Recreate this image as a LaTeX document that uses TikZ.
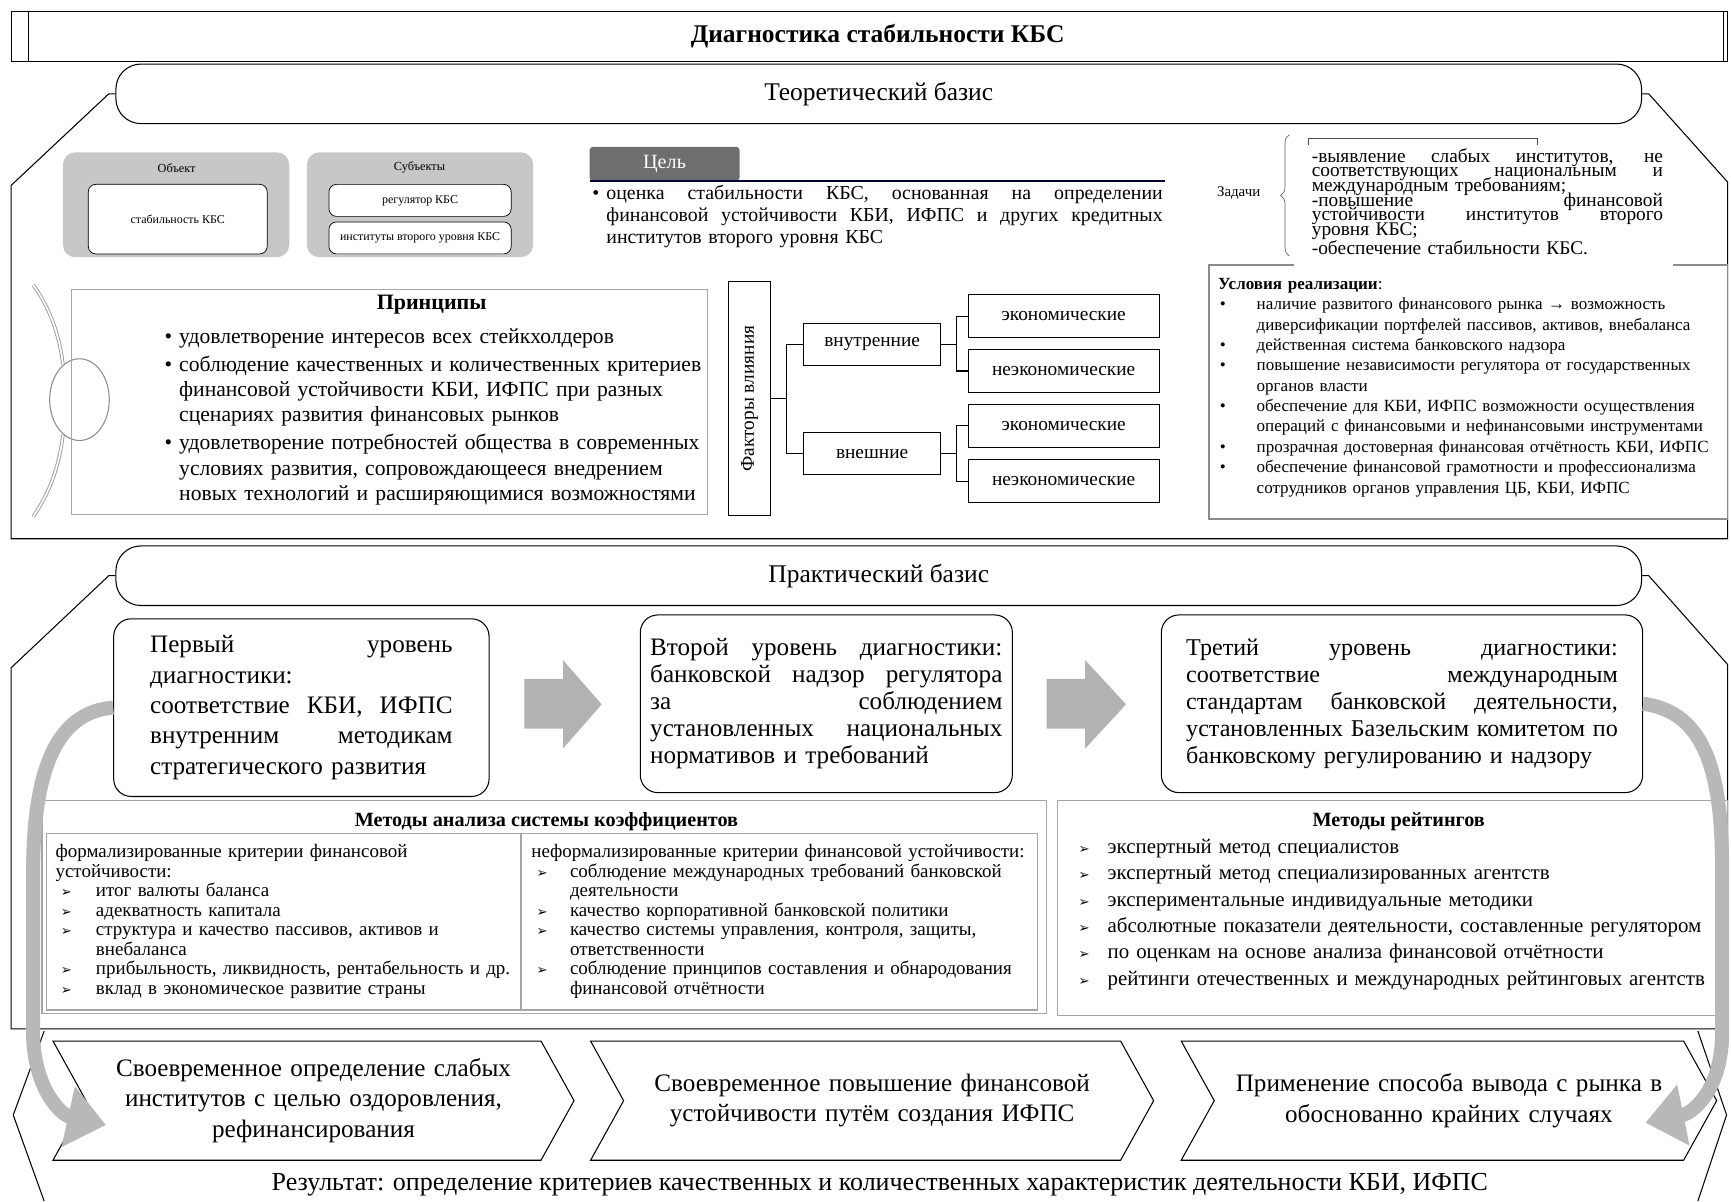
\documentclass[tikz,border=0pt]{standalone}
\usepackage{fontspec}
\setmainfont{Liberation Serif}
\newfontfamily\djv{DejaVu Sans}
\usetikzlibrary{positioning,arrows.meta,shapes.symbols,decorations.pathreplacing,calc}

\newcommand\fsz[2]{\fontsize{#1}{#2}\selectfont}
% one justified line of a block, width in \jlw
\newlength\jlw
\newcommand\jl[1]{\makebox[\jlw][s]{\spaceskip=0.25em plus 1fil\relax #1}\\}
% bullets
\newcommand\pb{\leavevmode\llap{\textbullet\hspace{4pt}}}
\newcommand\ub{\makebox[22pt][l]{\hspace{1pt}\textbullet}}
\newcommand\ab[1]{\makebox[#1][l]{\hspace{3pt}{\djv\fontsize{7.5}{8}\selectfont ➢}}}

\begin{document}
\begin{tikzpicture}[x=0.2208mm, y=-0.2208mm,
    frame/.style={line width=0.6pt},
    banner/.style={draw, line width=0.6pt, rounded corners=5mm, minimum width=868.2pt,
                   minimum height=33.9pt, font=\fsz{14.5}{16}},
    grayback/.style={fill=black!22, rounded corners=2.5mm, minimum width=128.8pt, minimum height=59.7pt},
    whitebox/.style={draw, fill=white, rounded corners=1.5mm, inner sep=1pt, font=\fsz{6.8}{8}},
    fbox/.style={draw, line width=0.6pt, minimum height=24.5pt, font=\fsz{11}{12}},
    level/.style={draw, line width=0.6pt, rounded corners=3.5mm, minimum height=101.1pt, align=left},
    methbox/.style={draw=black!35, line width=0.8pt},
    chevron/.style={draw, line width=0.6pt, signal, signal from=west, signal to=east,
                    signal pointer angle=122, minimum height=67.8pt, align=center, font=\fsz{14.3}{17.3}},
    textblock/.style={anchor=base west, inner sep=0pt, align=left},
    bendarrow/.style={draw=black!28, line width=8pt, -{Triangle[length=22pt, width=34pt]}},
  ]
  \useasboundingbox (0,0) rectangle (1568,1088);

  % title
  \draw[frame] (10,10) rectangle (1565,56) (26,10) -- (26,56) (1561,10) -- (1561,56);
  \node[font=\bfseries\fsz{14.5}{16}] (title) at (795,33) {Диагностика стабильности КБС};

  % theoretical part
  \node[banner] (theory) at (796,85) {Теоретический базис};
  \draw[frame] (theory.west) -- ++(-6,0) -- (10,168) -- (10,488) -- (1565,488) -- (1565,165)
    -- ($(theory.east)+(6,0)$) -- (theory.east);

  \node[grayback] (objbg) at (159.5,185.5) {};
  \node[font=\fsz{7}{8}] (objlab) at (160,152) {Объект};
  \node[whitebox, minimum width=101.8pt, minimum height=39.6pt] (obj) at (161,198.5) {стабильность КБС};
  \node[grayback] (subbg) at (380.5,185.5) {};
  \node[font=\fsz{7}{8}] (sublab) at (380,152) {Субъекты};
  \node[whitebox, minimum width=103.7pt, minimum height=18.2pt] (reg) at (380.5,181.5) {регулятор КБС};
  \node[whitebox, minimum width=103.7pt, minimum height=18.2pt] (inst) at (380.5,215.5) {институты второго уровня КБС};

  \node[fill=black!57, text=white, rounded corners=2pt, minimum width=85.4pt, minimum height=19.5pt,
        font=\fsz{11.5}{12}] (goaltab) at (602,148.5) {Цель};
  \draw[line width=0.8pt, black!75!blue] (534,164) -- (1055,164);
  \node[textblock, text width=316.6pt, font=\fsz{11.3}{12.3}] (goal) at (549,181)
    {\setlength\jlw{316.6pt}%
     \jl{\llap{\textbullet\hspace{4pt}}оценка стабильности КБС, основанная на определении}%
     \jl{финансовой устойчивости КБИ, ИФПС и других кредитных}институтов второго уровня КБС};

  \node[font=\fsz{8.5}{10}] (tasklab) at (1122,175) {Задачи};
  \draw[black!60, decorate, decoration={brace, amplitude=5pt}] (1168,232) -- (1168,122);
  \draw[black!70] (1185,131) -- (1185,125) -- (1393,125) -- (1393,131);
  \node[textblock, text width=199.8pt, font=\fsz{11}{8.3}] (tasks) at (1188,147)
    {\lineskiplimit=-20pt \setlength\jlw{199.8pt}%
     \jl{-выявление слабых институтов, не}\jl{соответствующих национальным и}международным требованиям;\\
     \jl{-повышение финансовой}\jl{устойчивости институтов второго}уровня КБС;\\
     -обеспечение стабильности КБС.};

  \draw[black!45, line width=0.8pt] (1172,240) -- (1095,240) -- (1095,470) -- (1565,470) -- (1565,240) -- (1515,240);
  \node[textblock, text width=300pt, font=\fsz{9.7}{11.6}] (cond) at (1103,262)
    {\textbf{Условия реализации}:\\
     \ub наличие развитого финансового рынка → возможность\\
     \hspace*{22pt}диверсификации портфелей пассивов, активов, внебаланса\\
     \ub действенная система банковского надзора\\
     \ub повышение независимости регулятора от государственных\\
     \hspace*{22pt}органов власти\\
     \ub обеспечение для КБИ, ИФПС возможности осуществления\\
     \hspace*{22pt}операций с финансовыми и нефинансовыми инструментами\\
     \ub прозрачная достоверная финансовая отчётность КБИ, ИФПС\\
     \ub обеспечение финансовой грамотности и профессионализма\\
     \hspace*{22pt}сотрудников органов управления ЦБ, КБИ, ИФПС};

  % principles
  \draw[black!40, double=white, double distance=1pt, line width=0.5pt]
    (30,258) .. controls (46,280) and (54,305) .. (57,330)
    (57,394) .. controls (54,420) and (46,445) .. (30,468);
  \draw[black!45, line width=0.6pt, fill=white] (72,362) ellipse [x radius=27, y radius=37];
  \node[methbox, minimum width=361.9pt, minimum height=128.2pt] (princbox) at (353,364) {};
  \node[font=\bfseries\fsz{12.5}{14}] (princtitle) at (391,276) {Принципы};
  \node[textblock, text width=305pt, font=\fsz{12.3}{14.4}] (princ) at (162,311)
    {\pb удовлетворение интересов всех стейкхолдеров\\[1.5pt]
     \pb соблюдение качественных и количественных критериев\\
     финансовой устойчивости КБИ, ИФПС при разных\\
     сценариях развития финансовых рынков\\[1.5pt]
     \pb удовлетворение потребностей общества в современных\\
     условиях развития, сопровождающееся внедрением\\
     новых технологий и расширяющимися возможностями};

  % factors
  \node[fbox, rotate=90, minimum width=133.2pt, minimum height=23.9pt] (fac) at (679,361) {Факторы влияния};
  \node[fbox, minimum width=77.9pt, minimum height=23.9pt] (inner) at (790,312) {внутренние};
  \node[fbox, minimum width=77.9pt, minimum height=23.9pt] (outer) at (790,411) {внешние};
  \node[fbox, minimum width=108.7pt] (econ1) at (963.5,286.5) {экономические};
  \node[fbox, minimum width=108.7pt] (nonecon1) at (963.5,336) {неэкономические};
  \node[fbox, minimum width=108.7pt] (econ2) at (963.5,385.5) {экономические};
  \node[fbox, minimum width=108.7pt] (nonecon2) at (963.5,436) {неэкономические};
  \draw[line width=0.7pt] (fac.south) -- ++(14,0) coordinate (fj) (fj) |- (inner.west) (fj) |- (outer.west);
  \draw[line width=0.7pt] (inner.east) -- ++(14,0) coordinate (ij) (ij) |- (econ1.west) (ij) |- (nonecon1.west);
  \draw[line width=0.7pt] (outer.east) -- ++(14,0) coordinate (oj) (oj) |- (econ2.west) (oj) |- (nonecon2.west);

  % practical part
  \node[banner] (practice) at (796,521.5) {Практический базис};
  \draw[frame] (practice.west) -- ++(-6,0) -- (10,605) -- (10,932) -- (1565,932) -- (1565,602)
    -- ($(practice.east)+(6,0)$) -- (practice.east);

  \node[level, minimum width=213.6pt, text width=172.1pt, font=\fsz{14.3}{17.3}] (lvl1) at (273,641)
    {\setlength\jlw{172.1pt}%
     \jl{Первый уровень}диагностики:\\\jl{соответствие КБИ, ИФПС}\jl{внутренним методикам}стратегического развития};
  \node[level, minimum width=211.7pt, text width=200.4pt, font=\fsz{14.3}{15.4}] (lvl2) at (748.5,637.5)
    {\setlength\jlw{200.4pt}%
     \jl{Второй уровень диагностики:}\jl{банковской надзор регулятора}\jl{за соблюдением}%
     \jl{установленных национальных}нормативов и требований};
  \node[level, minimum width=273.9pt, text width=245.6pt, font=\fsz{13.7}{15.4}] (lvl3) at (1270,637.5)
    {\setlength\jlw{245.6pt}%
     \jl{Третий уровень диагностики:}\jl{соответствие международным}\jl{стандартам банковской деятельности,}%
     \jl{установленных Базельским комитетом по}банковскому регулированию и надзору};

  \fill[black!30] (475,615) -- (510,615) -- (510,598) -- (545,638) -- (510,678) -- (510,660) -- (475,660) -- cycle;
  \fill[black!30] (948,615) -- (983,615) -- (983,598) -- (1020,638) -- (983,678) -- (983,660) -- (948,660) -- cycle;

  % methods
  \node[methbox, minimum width=571.7pt, minimum height=121.2pt] (ratiobox) at (493,821.5) {};
  \node[font=\bfseries\fsz{11.5}{13}] (ratiotitle) at (495,744) {Методы анализа системы коэффициентов};
  \draw[black!35, line width=0.8pt] (42,755) rectangle (940,915) (472,755) -- (472,915);
  \node[textblock, text width=270pt, font=\fsz{10.8}{11.1}] (formal) at (50,777)
    {формализированные критерии финансовой\\
     устойчивости:\\
     \ab{23pt}итог валюты баланса\\
     \ab{23pt}адекватность капитала\\
     \ab{23pt}структура и качество пассивов, активов и\\
     \hspace*{23pt}внебаланса\\
     \ab{23pt}прибыльность, ликвидность, рентабельность и др.\\
     \ab{23pt}вклад в экономическое развитие страны};
  \node[textblock, text width=290pt, font=\fsz{10.8}{11.1}] (informal) at (481,777)
    {неформализированные критерии финансовой устойчивости:\\
     \ab{22pt}соблюдение международных требований банковской\\
     \hspace*{22pt}деятельности\\
     \ab{22pt}качество корпоративной банковской политики\\
     \ab{22pt}качество системы управления, контроля, защиты,\\
     \hspace*{22pt}ответственности\\
     \ab{22pt}соблюдение принципов составления и обнародования\\
     \hspace*{22pt}финансовой отчётности};

  \node[methbox, minimum width=381.3pt, minimum height=122.5pt] (ratebox) at (1261.5,822.5) {};
  \node[font=\bfseries\fsz{11.5}{13}] (ratetitle) at (1267,744) {Методы рейтингов};
  \node[textblock, text width=380pt, font=\fsz{11.9}{15}] (rates) at (972,773)
    {\ab{19.5pt}экспертный метод специалистов\\
     \ab{19.5pt}экспертный метод специализированных агентств\\
     \ab{19.5pt}экспериментальные индивидуальные методики\\
     \ab{19.5pt}абсолютные показатели деятельности, составленные регулятором\\
     \ab{19.5pt}по оценкам на основе анализа финансовой отчётности\\
     \ab{19.5pt}рейтинги отечественных и международных рейтинговых агентств};

  % results
  \draw[frame] (40,934) -- (12,1010) -- (40,1088);
  \draw[frame] (1538,934) -- (1564,1010) -- (1538,1088);
  \node[chevron, minimum width=296.5pt, text width=250pt] (res1) at (284,997)
    {Своевременное определение слабых\\институтов с целью оздоровления,\\рефинансирования};
  \node[chevron, minimum width=320.4pt, text width=265pt] (res2) at (790,997)
    {Своевременное повышение финансовой\\устойчивости путём создания ИФПС};
  \node[chevron, minimum width=304.7pt, text width=250pt] (res3) at (1312.5,997)
    {Применение способа вывода с рынка в\\обоснованно крайних случаях};
  \node[font=\fsz{14.8}{16}] (result) at (797,1073)
    {Результат: определение критериев качественных и количественных характеристик деятельности КБИ, ИФПС};

  % feedback arrows
  \draw[bendarrow] (lvl1.west) .. controls (50,645) and (30,700) .. (30,790) -- (30,935)
    .. controls (30,985) and (55,1010) .. ($(res1.center)+(-188,22)$);
  \draw[bendarrow] (lvl3.east) .. controls (1545,645) and (1560,700) .. (1560,790) -- (1560,935)
    .. controls (1560,985) and (1535,1008) .. ($(res3.center)+(178,20)$);
\end{tikzpicture}
\end{document}
